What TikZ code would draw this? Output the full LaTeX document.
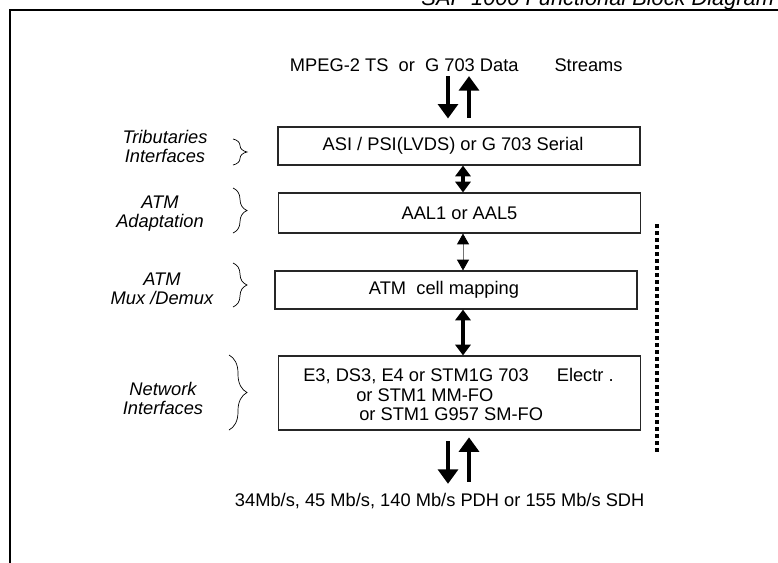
\documentclass[tikz,border=0pt]{standalone}
\usepackage{fontspec}
\setmainfont{Liberation Sans}
\usetikzlibrary{positioning,arrows.meta,decorations.pathreplacing}

\begin{document}
\begin{tikzpicture}[x=0.025cm, y=-0.025cm, every node/.style={font=\fontsize{13}{13.8}\selectfont,align=center}, layer/.style={draw=black!85,line width=0.8pt,minimum width=9.05cm,minimum height=0.95cm}, side/.style={font=\fontsize{13}{13.5}\selectfont\itshape}, curly/.style={decorate,decoration={brace,amplitude=#1},line width=0.5pt}, flow/.style={-{Triangle[width=0.5cm,length=0.36cm]},line width=2.2pt}, link/.style={{Triangle[width=0.38cm,length=0.27cm]}-{Triangle[width=0.38cm,length=0.27cm]},line width=2.2pt}, thinlink/.style={{Triangle[width=0.3cm,length=0.27cm,color=black]}-{Triangle[width=0.3cm,length=0.27cm,color=black]},line width=0.6pt,draw=black!55}]
\useasboundingbox (0,0) rectangle (778,562);
\draw[line width=1.4pt] (790,10) -| (10,570);
\node[font=\fontsize{15.5}{16}\selectfont\itshape,anchor=base east] (title) at (779,5) {SAP 1000 Functional Block Diagram};

\node[anchor=base west] (streams) at (285,71) {MPEG-2 TS\ \ or\ \ G 703 Data\hspace{0.9cm}Streams};
\node[layer] (tribbox) at (459,146) {ASI / PSI(LVDS) or G 703 Serial\hspace*{0.3cm}};
\node[layer,minimum height=1cm] (aalbox) at (459.5,213) {AAL1 or AAL5};
\node[layer] (cellbox) at (456,290) {ATM\ \ cell mapping\hspace*{0.6cm}};
\node[layer,minimum height=1.85cm] (netbox) at (459.5,393) {};
\node[anchor=base west,inner sep=0pt] (netl1) at (303,381) {E3, DS3, E4 or STM1G 703\hspace{0.7cm}Electr\ .};
\node[anchor=base west,inner sep=0pt] (netl2) at (356,401) {or STM1 MM-FO};
\node[anchor=base west,inner sep=0pt] (netl3) at (359,420) {or STM1 G957 SM-FO};
\node[anchor=base west] (rates) at (230,506) {34Mb/s, 45 Mb/s, 140 Mb/s PDH or 155 Mb/s SDH};

\node[side] (tribtxt) at (165,146) {Tributaries\\Interfaces};
\node[side] (adapttxt) at (160,214) {ATM\\Adaptation};
\node[side] (muxtxt) at (162,289) {ATM\\Mux /Demux};
\node[side] (nettxt) at (163,398) {Network\\Interfaces};

\draw[curly=0.35cm] (233,139) -- (233,165);
\draw[curly=0.35cm] (233,188) -- (233,233);
\draw[curly=0.35cm] (233,263) -- (233,307);
\draw[curly=0.45cm] (229,355) -- (229,430);

\coordinate (dn) at (448,0);
\coordinate (up) at (469,0);
\coordinate (spine) at (463,0);
\draw[flow,shorten >=0.2cm] (streams.south -| dn) -- (tribbox.north -| dn);
\draw[flow,shorten <=0.22cm] (tribbox.north -| up) -- (streams.south -| up);
\draw[link] (tribbox.south -| spine) -- (aalbox.north -| spine);
\draw[thinlink] (aalbox.south -| spine) -- (cellbox.north -| spine);
\draw[link] (cellbox.south -| spine) -- (netbox.north -| spine);
\draw[flow,shorten <=0.27cm,shorten >=0.1cm] (netbox.south -| dn) -- (rates.north -| dn);
\draw[flow,shorten <=0.15cm,shorten >=0.17cm] (rates.north -| up) -- (netbox.south -| up);

\draw[line width=0.1cm,dash pattern=on 0.1cm off 0.075cm] (657,224) -- (657,453);
\end{tikzpicture}
\end{document}
